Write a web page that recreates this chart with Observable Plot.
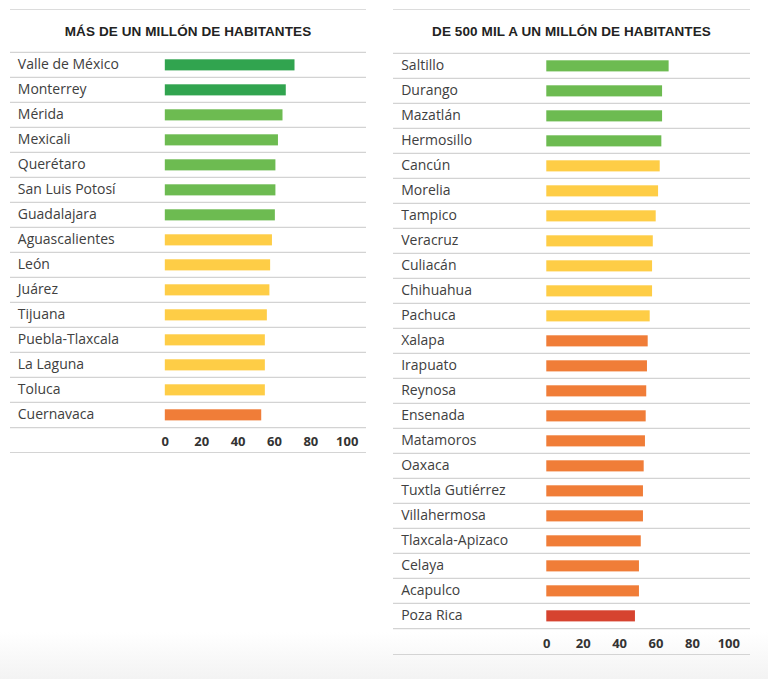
<!DOCTYPE html>
<html>
<head>
<meta charset="utf-8">
<script src="https://cdn.jsdelivr.net/npm/d3@7"></script>
<script src="https://cdn.jsdelivr.net/npm/@observablehq/plot@0.6"></script>
<style>
  html, body { margin: 0; padding: 0; }
  body {
    width: 768px; height: 679px; position: relative; overflow: hidden;
    background: linear-gradient(to bottom, #ffffff 0px, #ffffff 632px, #f3f3f3 679px);
    font-family: "Open Sans", sans-serif;
  }
  .panel {
    position: absolute; top: 9px;
    border-top: 1.5px solid #dcdcdc;
    border-bottom: 1.5px solid #d4d4d4;
  }
  .title {
    height: 39px; line-height: 43px; text-align: center;
    font-family: "Liberation Sans", Arial, sans-serif; font-weight: bold;
    font-size: 13.5px; color: #222; letter-spacing: 0.1px;
  }
  .panel svg { display: block; }
</style>
</head>
<body>
<div class="panel" id="left" style="left:10px; width:356px;">
  <div class="title">MÁS DE UN MILLÓN DE HABITANTES</div>
</div>
<div class="panel" id="right" style="left:393px; width:357px;">
  <div class="title">DE 500 MIL A UN MILLÓN DE HABITANTES</div>
</div>
<script>
// ---- Data ----
const levels = ["muy alto", "alto", "medio", "bajo", "muy bajo"];
const levelColors = ["#31a44f", "#6dbb51", "#fecd46", "#f07d38", "#d6432f"];
const tickValues = [0, 20, 40, 60, 80, 100];

const leftNames = ["Valle de México", "Monterrey", "Mérida", "Mexicali", "Querétaro",
  "San Luis Potosí", "Guadalajara", "Aguascalientes", "León", "Juárez", "Tijuana",
  "Puebla-Tlaxcala", "La Laguna", "Toluca", "Cuernavaca"];
const leftValues = [71.3, 66.5, 64.7, 62.2, 60.8, 60.8, 60.5, 58.9, 57.9, 57.5, 56.1,
  55.0, 55.0, 55.0, 53.0];
const leftLevels = ["muy alto", "muy alto", "alto", "alto", "alto", "alto", "alto",
  "medio", "medio", "medio", "medio", "medio", "medio", "medio", "bajo"];

const rightNames = ["Saltillo", "Durango", "Mazatlán", "Hermosillo", "Cancún", "Morelia",
  "Tampico", "Veracruz", "Culiacán", "Chihuahua", "Pachuca", "Xalapa", "Irapuato",
  "Reynosa", "Ensenada", "Matamoros", "Oaxaca", "Tuxtla Gutiérrez", "Villahermosa",
  "Tlaxcala-Apizaco", "Celaya", "Acapulco", "Poza Rica"];
const rightValues = [67.2, 63.6, 63.6, 63.2, 62.3, 61.4, 60.1, 58.5, 58.1, 58.1, 56.8,
  55.7, 55.3, 54.9, 54.6, 54.2, 53.5, 53.1, 53.1, 51.9, 50.9, 50.9, 48.7];
const rightLevels = ["alto", "alto", "alto", "alto", "medio", "medio", "medio", "medio",
  "medio", "medio", "medio", "bajo", "bajo", "bajo", "bajo", "bajo", "bajo", "bajo",
  "bajo", "bajo", "bajo", "bajo", "muy bajo"];

// ---- Chart ----
const ROW = 25.2;
function panel(names, values, lvls, width, domain, labelDx) {
  const data = names.map((n, i) => ({name: n, value: values[i], level: lvls[i]}));
  const mTop = 1.2, mBottom = 24;
  return Plot.plot({
    width,
    height: mTop + names.length * ROW + mBottom,
    marginTop: mTop, marginBottom: mBottom, marginLeft: 0, marginRight: 0,
    style: {fontFamily: "Open Sans, sans-serif", background: "transparent", overflow: "visible"},
    x: {domain, axis: null},
    y: {type: "band", domain: names, padding: 0, axis: null},
    color: {domain: levels, range: levelColors},
    marks: [
      Plot.ruleY(names, {y: d => d, dy: -ROW / 2, stroke: "#d3d3d3", strokeWidth: 1.4}),
      Plot.ruleY(names.slice(-1), {y: d => d, dy: ROW / 2, stroke: "#d3d3d3", strokeWidth: 1.4}),
      Plot.barX(data, {x: "value", y: "name", fill: "level", insetTop: 7.3, insetBottom: 6.6}),
      Plot.text(data, {y: "name", text: "name", frameAnchor: "left", textAnchor: "start",
        dx: labelDx, fontSize: 14, fill: "#404040"}),
      Plot.axisX({ticks: tickValues, tickSize: 0, tickPadding: 8.5, label: null,
        fontSize: 13, fontWeight: "bold", fill: "#333"})
    ]
  });
}

document.getElementById("left").appendChild(
  panel(leftNames, leftValues, leftLevels, 356, [-85.1, 110.6], 7.3));
document.getElementById("right").appendChild(
  panel(rightNames, rightValues, rightLevels, 357, [-84.2, 111.9], 7.7));
</script>
</body>
</html>
